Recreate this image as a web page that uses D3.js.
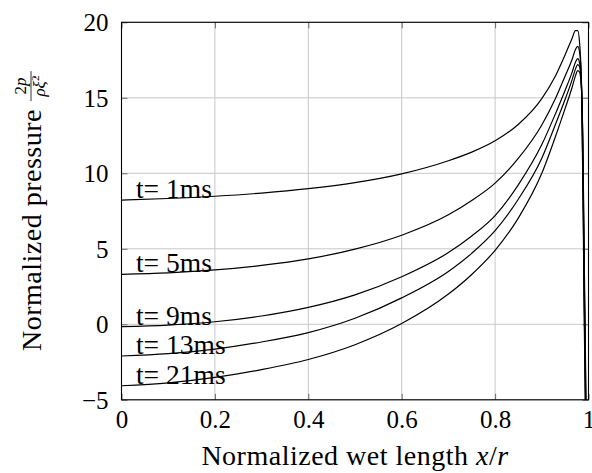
<!DOCTYPE html>
<html>
<head>
<meta charset="utf-8">
<script src="https://cdn.jsdelivr.net/npm/d3@7/dist/d3.min.js"></script>
<style>
  body { margin: 0; background: #fff; }
  text { font-family: "Liberation Serif", "Times New Roman", serif; fill: #000; }
</style>
</head>
<body>
<svg id="chart" width="592" height="473"></svg>
<script>
// normalized wet length samples (shared by all curves)
const xs = [0, 0.1, 0.2, 0.3, 0.4, 0.5, 0.6, 0.7, 0.75, 0.8, 0.85, 0.9, 0.93, 0.95, 0.965, 0.972,
            0.977, 0.981, 0.985, 0.988, 0.991, 0.995, 0.999];

// normalized pressure
const p1ms  = [8.23, 8.33, 8.48, 8.69, 8.98, 9.38, 9.96, 10.83, 11.4, 12.15, 13.25, 14.95, 16.5, 17.85, 18.95, 19.45,
               19.45, 18.6, 15.8, 9, 0, -10, -25];
const p5ms  = [3.31, 3.41, 3.60, 3.90, 4.33, 4.98, 5.90, 7.25, 8.2, 9.35, 11.0, 13.2, 15.0, 16.45, 17.55, 18.2,
               18.4, 18.0, 16.0, 10, 1, -9, -25];
const p9ms  = [-0.16, -0.05, 0.17, 0.55, 1.12, 1.95, 3.15, 4.75, 5.85, 7.2, 9.25, 11.9, 14.0, 15.5, 16.7, 17.35,
               17.6, 17.3, 15.8, 11, 2, -8, -25];
const p13ms = [-2.1, -1.94, -1.64, -1.17, -0.55, 0.4, 1.75, 3.5, 4.7, 6.2, 8.3, 11.0, 13.3, 14.9, 16.2, 16.9,
               17.2, 17.05, 15.7, 11.5, 3, -7, -25];
const p21ms = [-4.07, -3.88, -3.52, -3.0, -2.33, -1.35, 0.05, 2.0, 3.3, 4.9, 7.05, 10.0, 12.5, 14.3, 15.7, 16.45,
               16.8, 16.7, 15.5, 12, 4, -6, -25];

const curveLabels = ["t= 1ms", "t= 5ms", "t= 9ms", "t= 13ms", "t= 21ms"];
const xTicks = [0, 0.2, 0.4, 0.6, 0.8, 1];
const yTicks = [-5, 0, 5, 10, 15, 20];

const series = [p1ms, p5ms, p9ms, p13ms, p21ms].map((vals, i) => ({
  label: curveLabels[i],
  points: xs.map((x, j) => [x, vals[j]])
}));

// set the dimensions and margins of the graph
const margin = { top: 22.3, right: 3.5, bottom: 73.2, left: 121.5 },
  width = 592 - margin.left - margin.right,
  height = 473 - margin.top - margin.bottom;

const svg = d3.select("#chart")
  .append("g")
  .attr("transform", `translate(${margin.left},${margin.top})`);

const x = d3.scaleLinear().domain([0, 1]).range([0, width]);
const y = d3.scaleLinear().domain([-5, 20]).range([height, 0]);

// grid
svg.append("g")
  .selectAll("line")
  .data(xTicks)
  .join("line")
  .attr("x1", d => x(d)).attr("x2", d => x(d))
  .attr("y1", 0).attr("y2", height)
  .attr("stroke", "#c8c8c8").attr("stroke-width", 1);
svg.append("g")
  .selectAll("line")
  .data(yTicks)
  .join("line")
  .attr("x1", 0).attr("x2", width)
  .attr("y1", d => y(d)).attr("y2", d => y(d))
  .attr("stroke", "#c8c8c8").attr("stroke-width", 1);

// inward ticks on all four sides
const tickLen = 6;
const tickColor = "#6a6a6a";
const axB = svg.append("g").attr("transform", `translate(0,${height})`)
  .call(d3.axisBottom(x).tickValues(xTicks).tickSize(-tickLen).tickFormat(d => d3.format("")(d)).tickPadding(10));
const axT = svg.append("g")
  .call(d3.axisTop(x).tickValues(xTicks).tickSize(-tickLen).tickFormat(""));
const axL = svg.append("g")
  .call(d3.axisLeft(y).tickValues(yTicks).tickSize(-tickLen).tickPadding(13)
    .tickFormat(d => d < 0 ? "\u2212" + Math.abs(d) : d));
const axR = svg.append("g").attr("transform", `translate(${width},0)`)
  .call(d3.axisRight(y).tickValues(yTicks).tickSize(-tickLen).tickFormat(""));

[axB, axT, axL, axR].forEach(a => {
  a.select(".domain").remove();
  a.selectAll(".tick line").attr("stroke", tickColor);
  a.selectAll("text").style("font-family", '"Liberation Serif", serif').attr("font-size", 25).attr("fill", "#000");
});
axB.selectAll("text").attr("dy", "0.71em");
axL.selectAll("text").attr("dy", "0.34em");

// curves
svg.append("clipPath").attr("id", "clip")
  .append("rect").attr("width", width).attr("height", height);

const line = d3.line()
  .x(d => x(d[0]))
  .y(d => y(d[1]))
  .curve(d3.curveMonotoneX);

svg.append("g")
  .attr("clip-path", "url(#clip)")
  .selectAll("path")
  .data(series)
  .join("path")
  .attr("d", d => line(d.points))
  .attr("fill", "none")
  .attr("stroke", "#000")
  .attr("stroke-width", 1.2);

// curve labels at the left end of each curve
svg.append("g")
  .selectAll("text")
  .data(series)
  .join("text")
  .attr("x", x(0.031))
  .attr("y", d => y(d.points[0][1]) - 2)
  .attr("font-size", 27.5)
  .text(d => d.label);

// frame
svg.append("rect")
  .attr("width", width).attr("height", height)
  .attr("fill", "none").attr("stroke", "#000").attr("stroke-width", 1.1);

// x axis label
const xl = svg.append("text")
  .attr("x", width / 2)
  .attr("y", height + 65)
  .attr("text-anchor", "middle")
  .attr("font-size", 28)
  .attr("letter-spacing", 0.5);
xl.append("tspan").text("Normalized wet length ");
xl.append("tspan").attr("font-style", "italic").text("x");
xl.append("tspan").text("/");
xl.append("tspan").attr("font-style", "italic").text("r");

// y axis label with the fraction 2p / (rho xi-dot^2)
const yl = d3.select("#chart").append("g")
  .attr("transform", `translate(41,${margin.top + height / 2}) rotate(-90)`);
const mainTxt = yl.append("text").attr("font-size", 28).attr("letter-spacing", 0.5).text("Normalized pressure");
const mainW = mainTxt.node().getComputedTextLength();
const fracW = 30, gap = 8;
const x0 = -(mainW + gap + fracW) / 2;
mainTxt.attr("x", x0);
const fx = x0 + mainW + gap;
const num = yl.append("text")
  .attr("x", fx + fracW / 2).attr("y", -15)
  .attr("text-anchor", "middle").attr("font-size", 17);
num.append("tspan").text("2");
num.append("tspan").attr("font-style", "italic").text("p");
yl.append("line")
  .attr("x1", fx).attr("x2", fx + fracW)
  .attr("y1", -10).attr("y2", -10)
  .attr("stroke", "#000").attr("stroke-width", 0.8);
const den = yl.append("text")
  .attr("x", fx + fracW / 2).attr("y", 4)
  .attr("text-anchor", "middle").attr("font-size", 17);
den.append("tspan").attr("font-style", "italic").text("\u03C1\u03BE\u0307");
den.append("tspan").attr("font-size", 11).attr("dy", -6).text("2");
</script>
</body>
</html>
